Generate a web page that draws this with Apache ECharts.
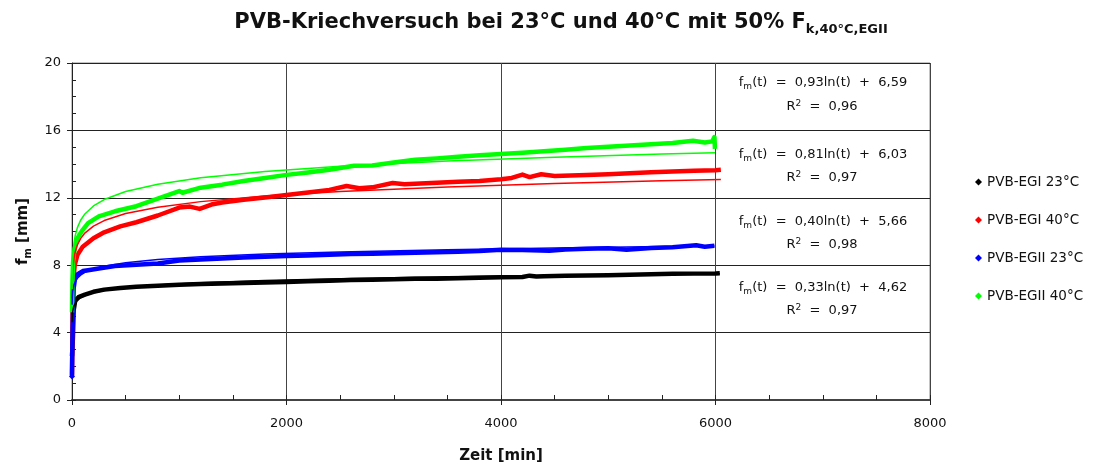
<!DOCTYPE html>
<html>
<head>
<meta charset="utf-8">
<script src="https://cdn.jsdelivr.net/npm/echarts@6/dist/echarts.min.js"></script>
<style>
  html, body { margin: 0; padding: 0; background: #fff; }
  #chart { width: 1101px; height: 465px; }
</style>
</head>
<body>
<div id="chart"></div>
<script>
// Creep measurements: deflection f_m [mm] over time [min]
const seriesNames = ['PVB-EGI 23°C', 'PVB-EGI 40°C', 'PVB-EGII 23°C', 'PVB-EGII 40°C'];
const seriesColors = ['#000000', '#ff0000', '#0000ff', '#00ff00'];

const egi23Time = [0, 3, 8, 15, 30, 60, 120, 200, 300, 450, 600, 800, 1000, 1200, 1400, 1600, 1800, 2000, 2200, 2400, 2600, 2800, 3000, 3200, 3400, 3600, 3800, 4000, 4200, 4266, 4330, 4400, 4600, 4800, 5000, 5200, 5400, 5600, 5800, 6000, 6040];
const egi23Val  = [2.6, 2.5, 3.6, 5.3, 5.9, 6.1, 6.25, 6.42, 6.55, 6.65, 6.72, 6.78, 6.84, 6.88, 6.92, 6.95, 6.98, 7.01, 7.05, 7.08, 7.12, 7.13, 7.16, 7.19, 7.2, 7.22, 7.25, 7.28, 7.3, 7.38, 7.33, 7.35, 7.37, 7.39, 7.41, 7.43, 7.46, 7.49, 7.5, 7.51, 7.52];

const egi40Time = [0, 2, 6, 12, 25, 50, 100, 200, 300, 450, 600, 800, 1000, 1100, 1190, 1300, 1400, 1600, 1800, 2000, 2200, 2400, 2560, 2680, 2800, 2990, 3100, 3200, 3400, 3600, 3800, 4000, 4100, 4200, 4266, 4375, 4500, 4800, 5000, 5200, 5400, 5600, 5800, 6000, 6050];
const egi40Val  = [1.5, 2.7, 5.5, 7.0, 8.0, 8.6, 9.1, 9.6, 9.95, 10.3, 10.55, 10.95, 11.42, 11.48, 11.34, 11.6, 11.72, 11.88, 12.02, 12.17, 12.32, 12.47, 12.7, 12.57, 12.62, 12.88, 12.8, 12.83, 12.9, 12.95, 13.0, 13.1, 13.18, 13.38, 13.23, 13.4, 13.3, 13.36, 13.4, 13.46, 13.52, 13.56, 13.6, 13.63, 13.66];

const egii23Time = [0, 3, 8, 15, 30, 60, 100, 150, 250, 400, 600, 800, 1000, 1200, 1400, 1600, 1800, 2000, 2200, 2400, 2600, 2800, 3000, 3200, 3400, 3600, 3800, 4000, 4200, 4450, 4600, 4800, 5000, 5170, 5400, 5600, 5820, 5900, 5990];
const egii23Val  = [1.4, 3.0, 5.0, 6.6, 7.3, 7.5, 7.65, 7.7, 7.8, 7.95, 8.02, 8.1, 8.28, 8.34, 8.4, 8.46, 8.5, 8.54, 8.58, 8.62, 8.66, 8.68, 8.71, 8.74, 8.77, 8.8, 8.84, 8.92, 8.9, 8.86, 8.93, 8.97, 9.0, 8.92, 9.02, 9.07, 9.18, 9.1, 9.15];

const egii40Time = [0, 4, 10, 25, 50, 100, 150, 250, 400, 600, 800, 1000, 1030, 1200, 1400, 1600, 1800, 2000, 2200, 2400, 2630, 2800, 3000, 3200, 3400, 3600, 3800, 4000, 4200, 4400, 4600, 4800, 5000, 5200, 5400, 5600, 5790, 5900, 5970, 5990, 5995];
const egii40Val  = [5.2, 7.0, 8.2, 9.0, 9.6, 10.1, 10.5, 10.9, 11.2, 11.5, 11.95, 12.4, 12.3, 12.6, 12.78, 13.0, 13.18, 13.36, 13.5, 13.66, 13.9, 13.92, 14.1, 14.26, 14.34, 14.43, 14.52, 14.6, 14.68, 14.76, 14.85, 14.96, 15.03, 15.1, 15.18, 15.25, 15.38, 15.28, 15.35, 15.6, 14.9];

// Logarithmic fits f_m(t) = a*ln(t) + b, as given in the fit labels
const fitA = [0.33, 0.81, 0.40, 0.93];
const fitB = [4.62, 6.03, 5.66, 6.59];
const fitR2 = ['0,97', '0,97', '0,98', '0,96'];
const fitTimes = [1, 2, 3, 5, 8, 12, 20, 30, 50, 80, 120, 200, 300, 500, 800, 1200, 1800, 2500, 3500, 4500, 5500];

// Axis ticks
const xTicks = [0, 2000, 4000, 6000, 8000];
const yTicks = [0, 4, 8, 12, 16, 20];

const measured = [
  [egi23Time, egi23Val],
  [egi40Time, egi40Val],
  [egii23Time, egii23Val],
  [egii40Time, egii40Val]
];

const fmt = v => v.toFixed(2).replace('.', ',');
const baseFont = 'DejaVu Sans, Liberation Sans, sans-serif';

const series = [];
measured.forEach(([ts, vs], i) => {
  series.push({
    name: seriesNames[i],
    type: 'line',
    xAxisIndex: 0,
    yAxisIndex: 0,
    symbol: 'none',
    showSymbol: true,
    color: seriesColors[i],
    lineStyle: { width: 4.5, color: seriesColors[i], join: 'round' },
    data: ts.map((t, k) => (i === 2 && k === 0)
      ? { value: [t, vs[k]], symbol: 'diamond', symbolSize: 6, itemStyle: { color: seriesColors[i] } }
      : [t, vs[k]]),
    z: 2,
    animation: false
  });
});
measured.forEach(([ts], i) => {
  const tEnd = ts[ts.length - 1];
  const pts = fitTimes.filter(t => t < tEnd).concat([tEnd]);
  series.push({
    name: 'Fit ' + seriesNames[i],
    type: 'line',
    xAxisIndex: 0,
    yAxisIndex: 0,
    symbol: 'none',
    color: seriesColors[i],
    lineStyle: { width: 1.5, color: seriesColors[i] },
    data: pts.map(t => [t, fitA[i] * Math.log(t) + fitB[i]]),
    z: 3,
    animation: false
  });
});

// Fit equation labels, drawn inside the plot area on the right
const labelY = [[288, 311], [155, 178], [222, 245], [83, 107]];
const graphics = [];
fitA.forEach((a, i) => {
  graphics.push({
    type: 'text',
    x: 823, y: labelY[i][0],
    style: {
      x: 0, y: 0,
      text: '{n|f}{s|m}{n|(t)  =  ' + fmt(a) + 'ln(t)  +  ' + fmt(fitB[i]) + '}',
      textAlign: 'center',
      textVerticalAlign: 'middle',
      fill: '#111',
      rich: {
        n: { fontSize: 13, fontFamily: baseFont, fill: '#111', lineHeight: 16, verticalAlign: 'middle' },
        s: { fontSize: 9, fontFamily: baseFont, fill: '#111', lineHeight: 16, verticalAlign: 'bottom' }
      }
    }
  });
  graphics.push({
    type: 'text',
    x: 822, y: labelY[i][1],
    style: {
      x: 0, y: 0,
      text: '{n|R}{p|2}{n|  =  ' + fitR2[i] + '}',
      textAlign: 'center',
      textVerticalAlign: 'middle',
      fill: '#111',
      rich: {
        n: { fontSize: 13, fontFamily: baseFont, fill: '#111', lineHeight: 16, verticalAlign: 'middle' },
        p: { fontSize: 9, fontFamily: baseFont, fill: '#111', lineHeight: 16, verticalAlign: 'top' }
      }
    }
  });
});

const chart = echarts.init(document.getElementById('chart'), null, { renderer: 'canvas' });
chart.setOption({
  backgroundColor: '#ffffff',
  animation: false,
  textStyle: { fontFamily: baseFont },
  title: {
    left: 556,
    textAlign: 'center',
    top: 4,
    text: '{a|PVB-Kriechversuch bei 23°C und 40°C mit 50% F}{b|k,40°C,EGII}',
    textStyle: {
      rich: {
        a: { fontSize: 21, fontWeight: 'bold', color: '#111', fontFamily: baseFont, lineHeight: 27, verticalAlign: 'middle' },
        b: { fontSize: 13, fontWeight: 'bold', color: '#111', fontFamily: baseFont, lineHeight: 27, verticalAlign: 'bottom' }
      }
    }
  },
  legend: {
    data: seriesNames,
    orient: 'vertical',
    left: 970,
    top: 170,
    icon: 'diamond',
    itemWidth: 7,
    itemHeight: 7,
    itemGap: 24,
    textStyle: { fontSize: 13.5, color: '#111', fontFamily: baseFont, lineHeight: 14 }
  },
  grid: {
    left: 72, right: 171, top: 63, bottom: 65,
    containLabel: false,
    outerBoundsMode: 'none',
    show: true, borderColor: '#888', borderWidth: 1, backgroundColor: 'transparent'
  },
  xAxis: [{
    type: 'value',
    min: xTicks[0], max: xTicks[xTicks.length - 1], interval: 2000,
    name: 'Zeit [min]',
    nameLocation: 'middle',
    nameGap: 49,
    nameTextStyle: { fontSize: 15, fontWeight: 'bold', color: '#111', fontFamily: baseFont },
    axisLine: { show: true, lineStyle: { color: '#444', width: 2 } },
    axisTick: { show: true, inside: false, length: 5, lineStyle: { color: '#222' } },
    axisLabel: { fontSize: 13, color: '#111', margin: 17, formatter: v => String(v) },
    splitLine: { show: true, lineStyle: { color: '#444', width: 1 } }
  }, {
    type: 'value',
    position: 'bottom',
    min: xTicks[0], max: xTicks[xTicks.length - 1], interval: 500,
    axisLine: { show: false },
    axisTick: { show: true, inside: true, length: 5, lineStyle: { color: '#222' } },
    axisLabel: { show: false },
    splitLine: { show: false }
  }],
  yAxis: [{
    type: 'value',
    min: yTicks[0], max: yTicks[yTicks.length - 1], interval: 4,
    name: '{a|f}{b|m}{a| [mm]}',
    nameLocation: 'middle',
    nameGap: 37,
    nameRotate: 90,
    nameTextStyle: {
      rich: {
        a: { fontSize: 15, fontWeight: 'bold', color: '#111', fontFamily: baseFont, lineHeight: 20, verticalAlign: 'middle' },
        b: { fontSize: 10, fontWeight: 'bold', color: '#111', fontFamily: baseFont, lineHeight: 20, verticalAlign: 'bottom' }
      }
    },
    axisLine: { show: true, lineStyle: { color: '#222', width: 1 } },
    axisTick: { show: true, inside: false, length: 5, lineStyle: { color: '#222' } },
    axisLabel: { fontSize: 13, color: '#111', margin: 11 },
    splitLine: { show: true, lineStyle: { color: '#222', width: 1 } }
  }, {
    type: 'value',
    position: 'left',
    min: yTicks[0], max: yTicks[yTicks.length - 1], interval: 1,
    axisLine: { show: false },
    axisTick: { show: true, inside: true, length: 4, lineStyle: { color: '#222' } },
    axisLabel: { show: false },
    splitLine: { show: false }
  }],
  graphic: graphics,
  series: series
});
</script>
</body>
</html>
